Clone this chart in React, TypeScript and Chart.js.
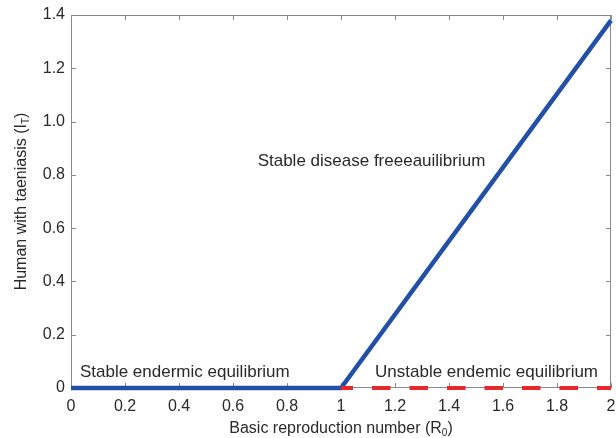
import React, { useEffect, useRef } from "react";
import { Chart, registerables } from "chart.js";

Chart.register(...registerables);

const stableX = [0, 1, 2];
const stableY = [0, 0, 1.38];
const unstableX = [1, 2];
const unstableY = [0, 0];
const xTicks = [0, 0.2, 0.4, 0.6, 0.8, 1, 1.2, 1.4, 1.6, 1.8, 2];
const yTicks = [0, 0.2, 0.4, 0.6, 0.8, 1.0, 1.2, 1.4];
const annotations = [
  { text: "Stable disease freeeauilibrium", x: 1.113, y: 0.833, align: "center" },
  { text: "Stable endermic equilibrium", x: 0.033, y: 0.041, align: "left" },
  { text: "Unstable endemic equilibrium", x: 1.126, y: 0.041, align: "left" },
];

const FONT = "'Liberation Sans', Arial, sans-serif";
const TEXT = "#2a2a2a";

const fmtX = (v: number) => (Math.abs(v - Math.round(v)) < 1e-9 ? String(Math.round(v)) : v.toFixed(1));
const fmtY = (v: number) => (Math.abs(v) < 1e-9 ? "0" : v.toFixed(1));

const framePlugin = {
  id: "frame",
  beforeDatasetsDraw(chart: any) {
    const { ctx, chartArea: a, scales } = chart;
    ctx.save();
    ctx.strokeStyle = "#8a8a8a";
    ctx.lineWidth = 1;
    ctx.strokeRect(a.left + 0.5, a.top + 0.5, a.right - a.left - 1, a.bottom - a.top - 1);
    const tl = 5;
    ctx.beginPath();
    xTicks.forEach((v) => {
      const px = Math.round(scales.x.getPixelForValue(v)) + 0.5;
      ctx.moveTo(px, a.bottom);
      ctx.lineTo(px, a.bottom - tl);
      ctx.moveTo(px, a.top);
      ctx.lineTo(px, a.top + tl);
    });
    yTicks.forEach((v) => {
      const py = Math.round(scales.y.getPixelForValue(v)) + 0.5;
      ctx.moveTo(a.left, py);
      ctx.lineTo(a.left + tl, py);
      ctx.moveTo(a.right, py);
      ctx.lineTo(a.right - tl, py);
    });
    ctx.stroke();
    ctx.restore();
  },
  afterDraw(chart: any) {
    const { ctx, chartArea: a, scales } = chart;
    ctx.save();
    ctx.fillStyle = TEXT;
    ctx.font = `17px ${FONT}`;
    ctx.textBaseline = "alphabetic";
    annotations.forEach((an) => {
      ctx.textAlign = an.align as CanvasTextAlign;
      ctx.fillText(an.text, scales.x.getPixelForValue(an.x), scales.y.getPixelForValue(an.y));
    });
    const drawSub = (main: string, sub: string, tail: string) => {
      ctx.font = `16px ${FONT}`;
      const w1 = ctx.measureText(main).width;
      const w3 = ctx.measureText(tail).width;
      ctx.font = `10px ${FONT}`;
      const w2 = ctx.measureText(sub).width;
      const total = w1 + w2 + w3;
      const x0 = -total / 2;
      ctx.textAlign = "left";
      ctx.font = `16px ${FONT}`;
      ctx.fillText(main, x0, 0);
      ctx.font = `10px ${FONT}`;
      ctx.fillText(sub, x0 + w1, 3);
      ctx.font = `16px ${FONT}`;
      ctx.fillText(tail, x0 + w1 + w2, 0);
    };
    ctx.save();
    ctx.translate((a.left + a.right) / 2, 433);
    drawSub("Basic reproduction number (R", "0", ")");
    ctx.restore();
    ctx.save();
    ctx.translate(26, (a.top + a.bottom) / 2);
    ctx.rotate(-Math.PI / 2);
    drawSub("Human with taeniasis (I", "T", ")");
    ctx.restore();
    ctx.restore();
  },
};

export default function App() {
  const ref = useRef<HTMLCanvasElement>(null);
  useEffect(() => {
    if (!ref.current) return;
    const chart = new Chart(ref.current, {
      type: "line",
      data: {
        datasets: [
          {
            data: unstableX.map((x, i) => ({ x, y: unstableY[i] })),
            borderColor: "#e8272b",
            borderWidth: 4,
            borderDash: [18.5, 19],
            borderDashOffset: 6.5,
            pointRadius: 0,
            clip: false,
            order: 1,
          } as any,
          {
            data: stableX.map((x, i) => ({ x, y: stableY[i] })),
            borderColor: "#2150a6",
            borderWidth: 4.5,
            pointRadius: 0,
            clip: false,
            borderCapStyle: "butt",
            order: 2,
          } as any,
        ],
      },
      options: {
        animation: false,
        responsive: false,
        maintainAspectRatio: false,
        layout: { padding: { left: 0, right: 5, top: 15, bottom: 0 } },
        plugins: { legend: { display: false }, tooltip: { enabled: false } },
        scales: {
          x: {
            type: "linear",
            min: 0,
            max: 2,
            afterFit: (s: any) => { s.height = 50; s.paddingLeft = 0; s.paddingRight = 0; },
            afterBuildTicks: (s: any) => { s.ticks = xTicks.map((v) => ({ value: v })); },
            grid: { display: false, drawTicks: false },
            border: { display: false },
            ticks: {
              padding: 9,
              color: TEXT,
              font: { family: FONT, size: 16 },
              maxRotation: 0,
              autoSkip: false,
              callback: (v: any) => fmtX(Number(v)),
            },
          },
          y: {
            type: "linear",
            min: 0,
            max: 1.4,
            afterFit: (s: any) => { s.width = 71; s.paddingTop = 0; s.paddingBottom = 0; },
            afterBuildTicks: (s: any) => { s.ticks = yTicks.map((v) => ({ value: v })); },
            grid: { display: false, drawTicks: false },
            border: { display: false },
            ticks: {
              padding: 6,
              color: TEXT,
              font: { family: FONT, size: 16 },
              autoSkip: false,
              callback: (v: any) => fmtY(Number(v)),
            },
          },
        },
      },
      plugins: [framePlugin],
    });
    return () => chart.destroy();
  }, []);
  return (
    <div style={{ position: "fixed", left: 0, top: 0, width: 616, height: 438, background: "#fff" }}>
      <canvas ref={ref} width={616} height={438} style={{ width: 616, height: 438 }} />
    </div>
  );
}
